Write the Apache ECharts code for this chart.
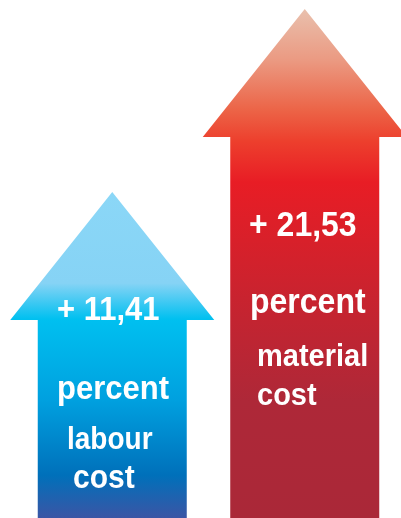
<!DOCTYPE html>
<html>
<head>
<meta charset="utf-8">
<script src="https://cdn.jsdelivr.net/npm/echarts@6/dist/echarts.min.js"></script>
<style>
html,body{margin:0;padding:0;background:#fff;}
#c{width:401px;height:518px;}
</style>
</head>
<body>
<div id="c"></div>
<script>
// ---- data ----
const categories = ['labour cost', 'material cost'];
const values = [11.41, 21.53];
const valueLabels = ['+ 11,41', '+ 21,53'];
const unitLabels = ['percent', 'percent'];
const nameLines = [['labour', 'cost'], ['material', 'cost']];

// ---- layout / style ----
const Y_MIN = -6.64, Y_MAX = 22.03;
const HEAD_H = 128, HEAD_HALF = 102, SHAFT_HALF = 74.5;
const gradients = [
  [
    {offset: 0, color: '#8bd7f7'},
    {offset: 0.28, color: '#86d3f5'},
    {offset: 0.39, color: '#00c0f0'},
    {offset: 0.64, color: '#00a0df'},
    {offset: 0.87, color: '#0070ba'},
    {offset: 1, color: '#3b55a5'}
  ],
  [
    {offset: 0, color: '#e9c0ad'},
    {offset: 0.1, color: '#eb9a82'},
    {offset: 0.2, color: '#ec6346'},
    {offset: 0.26, color: '#ed3f2d'},
    {offset: 0.34, color: '#e81d25'},
    {offset: 0.57, color: '#c8232f'},
    {offset: 0.77, color: '#ae2838'},
    {offset: 1, color: '#aa2838'}
  ]
];
// text layout: [x, y(middle), fontSize] for value, unit, name line 1, name line 2
const textLayout = [
  [[57, 311, 31], [57, 390, 31], [67, 441, 28], [73, 479, 30]],
  [[249, 226, 32], [250, 303, 32], [257, 357, 29], [257, 396, 29]]
];
const FONT = '"Liberation Sans", Arial, Helvetica, sans-serif';
const TEXT_SCALE_Y = 1.1;

function txt(str, l) {
  return {
    type: 'text',
    x: l[0], y: l[1], scaleY: TEXT_SCALE_Y,
    style: {
      text: str, x: 0, y: 0, fill: '#ffffff',
      font: 'bold ' + l[2] + 'px ' + FONT,
      textAlign: 'left', textVerticalAlign: 'middle'
    }
  };
}

const chart = echarts.init(document.getElementById('c'));
chart.setOption({
  animation: false,
  grid: {left: 16, top: 0, width: 396, bottom: 0},
  xAxis: {type: 'category', data: categories, show: false},
  yAxis: {type: 'value', min: Y_MIN, max: Y_MAX, show: false},
  series: [{
    type: 'custom',
    data: values.map((v, i) => [i, v]),
    renderItem: function (params, api) {
      const i = params.dataIndex;
      const tip = api.coord([api.value(0), api.value(1)]);
      const base = api.coord([api.value(0), Y_MIN]);
      const cx = tip[0], ty = tip[1], by = base[1];
      const hb = ty + HEAD_H;
      const pts = [
        [cx, ty], [cx + HEAD_HALF, hb], [cx + SHAFT_HALF, hb], [cx + SHAFT_HALF, by],
        [cx - SHAFT_HALF, by], [cx - SHAFT_HALF, hb], [cx - HEAD_HALF, hb]
      ];
      const L = textLayout[i];
      return {
        type: 'group',
        children: [
          {
            type: 'polygon',
            shape: {points: pts},
            style: {
              fill: {type: 'linear', x: 0, y: 0, x2: 0, y2: 1, colorStops: gradients[i]}
            }
          },
          txt(valueLabels[i], L[0]),
          txt(unitLabels[i], L[1]),
          txt(nameLines[i][0], L[2]),
          txt(nameLines[i][1], L[3])
        ]
      };
    }
  }]
});
</script>
</body>
</html>
